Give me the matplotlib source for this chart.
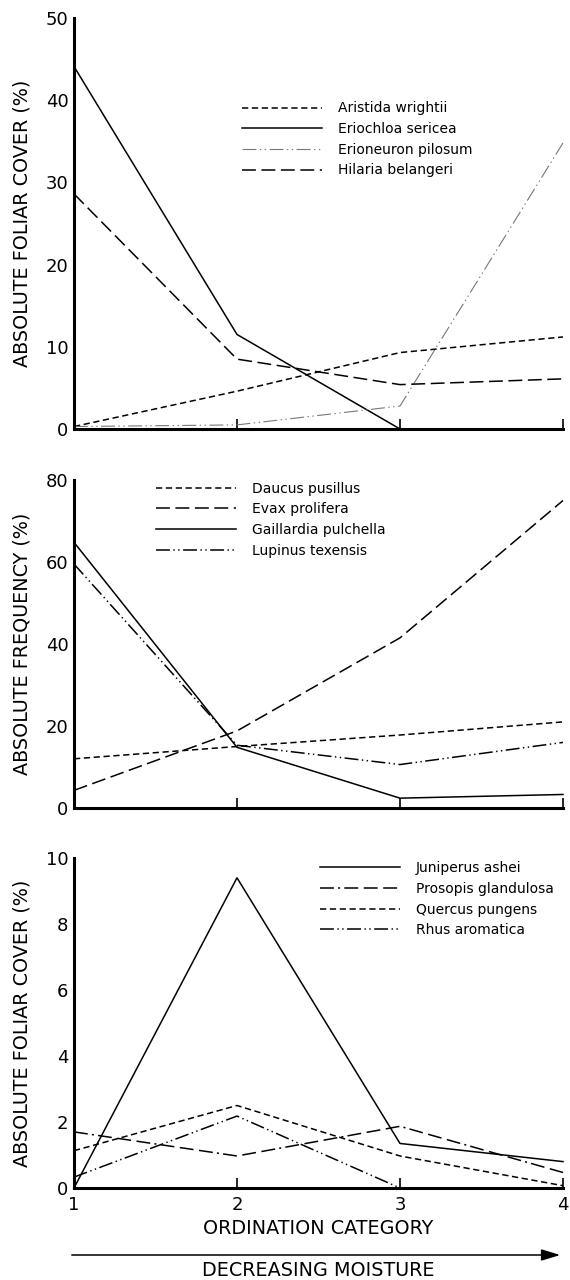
import matplotlib
matplotlib.use("Agg")
import matplotlib.pyplot as plt
from matplotlib.patches import FancyArrowPatch

plt.rcParams['font.family'] = ['DejaVu Sans']
plt.rcParams['lines.scale_dashes'] = False

# ---------------- data ----------------
categories = [1, 2, 3, 4]
xtick_labels = ["1", "2", "3", "4"]

# Panel 1: grasses, absolute foliar cover (%)
p1_names = ["Aristida wrightii", "Eriochloa sericea", "Erioneuron pilosum", "Hilaria belangeri"]
aristida = [0.3, 4.6, 9.3, 11.2]
eriochloa = [44.1, 11.5, 0.0, 0.0]
erioneuron = [0.3, 0.5, 2.8, 34.8]
hilaria = [28.6, 8.5, 5.4, 6.1]

# Panel 2: forbs, absolute frequency (%)
p2_names = ["Daucus pusillus", "Evax prolifera", "Gaillardia pulchella", "Lupinus texensis"]
daucus = [12.0, 15.0, 17.8, 21.0]
evax = [4.3, 18.8, 41.5, 75.0]
gaillardia = [64.8, 14.8, 2.4, 3.3]
lupinus = [59.5, 15.3, 10.6, 16.0]

# Panel 3: woody species, absolute foliar cover (%)
p3_names = ["Juniperus ashei", "Prosopis glandulosa", "Quercus pungens", "Rhus aromatica"]
juniperus = [0.0, 9.4, 1.35, 0.8]
prosopis = [1.7, 0.97, 1.87, 0.47]
quercus = [1.13, 2.5, 0.97, 0.07]
rhus = [0.33, 2.18, 0.0, 0.0]

# ---------------- styles ----------------
SOLID = dict(color='black', lw=1.1, linestyle='-')
SHORT = dict(color='black', lw=1.1, linestyle=(0, (4.5, 2.6)))
LONG = dict(color='black', lw=1.1, linestyle=(0, (10, 4)))
DDOT = dict(color='black', lw=1.1, linestyle=(0, (10, 2.5, 1, 2.5, 1, 2.5)))
DDOT_LIGHT = dict(color='#777777', lw=0.8, linestyle=(0, (10, 2.5, 1, 2.5, 1, 2.5)))
PROS = dict(color='black', lw=1.1, linestyle=(0, (10, 3, 1.5, 3, 10, 4, 10, 4)))

W, H = 570, 1280
fig = plt.figure(figsize=(W / 100, H / 100), dpi=100)

left = 74 / W
width = 489 / W
panels = [
    (1 - 429 / H, 411 / H),
    (1 - 808 / H, 328 / H),
    (1 - 1188 / H, 330 / H),
]

FS_TICK = 13
FS_LAB = 13.8
FS_LEG = 10


def style_axes(ax, ymax, yticks, ylabel, show_x):
    ax.set_xlim(1, 4)
    ax.set_ylim(0, ymax)
    for s in ('top', 'right'):
        ax.spines[s].set_visible(False)
    for s in ('left', 'bottom'):
        ax.spines[s].set_linewidth(2.2)
    ax.set_yticks(yticks)
    ax.set_yticklabels([str(v) for v in yticks], fontsize=FS_TICK)
    ax.tick_params(axis='y', which='major', length=0, pad=4)
    ax.set_yticks([ymax], minor=True)
    ax.tick_params(axis='y', which='minor', length=7, width=1.4, direction='in')
    ax.set_xticks(categories)
    ax.tick_params(axis='x', which='major', length=7, width=1.2, direction='in', pad=5.5)
    if show_x:
        ax.set_xticklabels(xtick_labels, fontsize=FS_TICK)
    else:
        ax.tick_params(axis='x', labelbottom=False)
    ax.set_ylabel(ylabel, fontsize=FS_LAB)
    ax.yaxis.set_label_coords(-0.086, 0.5)


def add_legend(ax, x, y):
    leg = ax.legend(loc='upper left', bbox_to_anchor=(x, y), frameon=False,
                    fontsize=FS_LEG, handlelength=5.75, handletextpad=1.15,
                    labelspacing=0.48, borderpad=0, borderaxespad=0)
    return leg


# Panel 1
ax1 = fig.add_axes([left, panels[0][0], width, panels[0][1]])
ax1.plot(categories, aristida, label=p1_names[0], clip_on=False, **SHORT)
ax1.plot(categories, eriochloa, label=p1_names[1], clip_on=False, **SOLID)
ax1.plot(categories, erioneuron, label=p1_names[2], clip_on=False, **DDOT_LIGHT)
ax1.plot(categories, hilaria, label=p1_names[3], clip_on=False, **LONG)
style_axes(ax1, 50, [0, 10, 20, 30, 40, 50], "ABSOLUTE FOLIAR COVER (%)", False)
add_legend(ax1, 0.344, 0.797)

# Panel 2
ax2 = fig.add_axes([left, panels[1][0], width, panels[1][1]])
ax2.plot(categories, daucus, label=p2_names[0], clip_on=False, **SHORT)
ax2.plot(categories, evax, label=p2_names[1], clip_on=False, **LONG)
ax2.plot(categories, gaillardia, label=p2_names[2], clip_on=False, **SOLID)
ax2.plot(categories, lupinus, label=p2_names[3], clip_on=False, **DDOT)
style_axes(ax2, 80, [0, 20, 40, 60, 80], "ABSOLUTE FREQUENCY (%)", False)
add_legend(ax2, 0.168, 0.995)

# Panel 3
ax3 = fig.add_axes([left, panels[2][0], width, panels[2][1]])
ax3.plot(categories, juniperus, label=p3_names[0], clip_on=False, **SOLID)
ax3.plot(categories, prosopis, label=p3_names[1], clip_on=False, **PROS)
ax3.plot(categories, quercus, label=p3_names[2], clip_on=False, **SHORT)
ax3.plot(categories, rhus, label=p3_names[3], clip_on=False, **DDOT)
style_axes(ax3, 10, [0, 2, 4, 6, 8, 10], "ABSOLUTE FOLIAR COVER (%)", True)
add_legend(ax3, 0.503, 0.99)

ax3.set_xlabel("ORDINATION CATEGORY", fontsize=FS_LAB, labelpad=4)

# Arrow and caption
arrow = FancyArrowPatch((69 / W, 1 - 1255 / H), (563 / W, 1 - 1255 / H),
                        transform=fig.transFigure,
                        arrowstyle='-|>,head_length=1.15,head_width=0.35',
                        mutation_scale=10, lw=1.1, color='black')
fig.add_artist(arrow)
fig.text(318.5 / W, 1 - 1270 / H, "DECREASING MOISTURE", ha='center', va='center',
         fontsize=FS_LAB)

fig.savefig("out.png", dpi=100)
